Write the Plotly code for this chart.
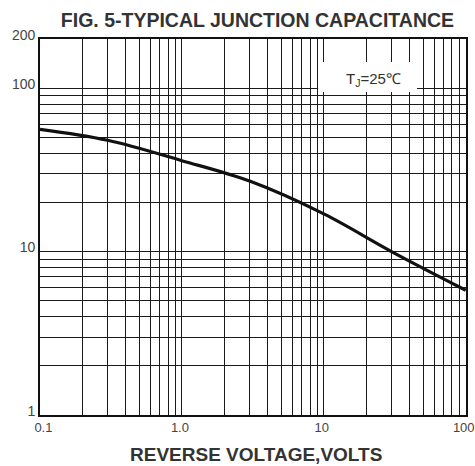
import numpy as np
import plotly.graph_objects as go

# Data
voltage = [0.1, 0.3, 1.0, 3.0, 10.0, 30.0, 100.0]
capacitance = [56, 48, 36, 27, 17, 10, 5.8]

x_tick_vals = [m * 10.0 ** e for e in (-1, 0, 1) for m in range(1, 10)] + [100]
x_tick_labels = {0.1: "\u00a0\u00a0\u00a00.1", 1.0: "1.0", 10.0: "10", 100.0: "100"}
y_tick_vals = [m * 10.0 ** e for e in (0, 1) for m in range(1, 10)] + [100, 200]
y_tick_labels = {1.0: "1", 10.0: "10", 100.0: "100", 200.0: "200"}

title_text = "FIG. 5-TYPICAL JUNCTION CAPACITANCE"
x_title = "REVERSE VOLTAGE,VOLTS"
temp_label = "T<sub>J</sub>=25℃"

def lbl(v, d):
    for k, s in d.items():
        if abs(v - k) < 1e-9 * max(1, k):
            return s
    return ""

fig = go.Figure()
fig.add_trace(go.Scatter(
    x=voltage, y=capacitance, mode="lines",
    line=dict(color="#111111", width=3.2, shape="spline", smoothing=1.0),
    hoverinfo="skip", showlegend=False,
))

fig.update_layout(
    width=475, height=466,
    margin=dict(l=40, r=9, t=39, b=51, autoexpand=False),
    paper_bgcolor="white", plot_bgcolor="white",
    font=dict(family="Liberation Sans, Arial, sans-serif", color="#444444"),
    title=dict(text="<b>" + title_text + "</b>", x=0.542, xanchor="center",
               y=0.956, yanchor="middle",
               font=dict(size=19.5, color="#333333")),
    showlegend=False,
)

fig.update_xaxes(
    type="log", range=[-1, 2.002], automargin=False,
    tickvals=x_tick_vals, ticktext=[lbl(v, x_tick_labels) for v in x_tick_vals],
    ticklabeloverflow="allow", ticklabelshift=-2,
    showgrid=True, gridcolor="#1a1a1a", gridwidth=1.4,
    showline=True, linecolor="#111111", linewidth=1.6, mirror=True,
    ticks="", tickfont=dict(size=13, color="#444444"),
    zeroline=False,
)
fig.update_yaxes(
    type="log", range=[0, np.log10(200)], automargin=False,
    tickvals=y_tick_vals, ticktext=[lbl(v, y_tick_labels) for v in y_tick_vals],
    ticklabeloverflow="allow", ticklabelshift=-4,
    showgrid=True, gridcolor="#1a1a1a", gridwidth=1.4,
    showline=True, linecolor="#111111", linewidth=1.6, mirror=True,
    ticks="", tickfont=dict(size=14, color="#444444"),
    zeroline=False,
)

# X-axis title
fig.add_annotation(xref="paper", yref="paper", x=0.507, y=-0.106,
                   xanchor="center", yanchor="middle",
                   text="<b>" + x_title + "</b>", showarrow=False,
                   font=dict(size=19, color="#333333"))

# White label box covering grid lines
fig.add_shape(type="rect", xref="paper", yref="paper",
              x0=0.653, x1=0.885, y0=0.859, y1=0.939,
              fillcolor="white", line=dict(width=0), layer="above")
fig.add_annotation(xref="paper", yref="paper", x=0.713, xanchor="left",
                   y=0.892, yanchor="middle",
                   text=temp_label, showarrow=False,
                   font=dict(size=15, color="#333333"))

fig.write_html("out.html", config={"displayModeBar": False},
               post_script="document.body.style.margin='0';")
